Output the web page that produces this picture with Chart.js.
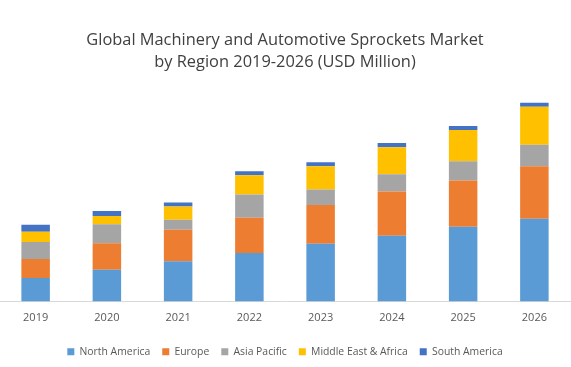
<!DOCTYPE html>
<html>
<head>
<meta charset="utf-8">
<script src="https://cdn.jsdelivr.net/npm/chart.js@4"></script>
<style>
  html, body { margin: 0; padding: 0; background: #fff; }
  #wrap { width: 571px; height: 367px; }
</style>
</head>
<body>
<div id="wrap"><canvas id="chart" width="571" height="367"></canvas></div>
<script>
const years = ['2019', '2020', '2021', '2022', '2023', '2024', '2025', '2026'];
const northAmerica = [23.3, 31.3, 39.7, 48, 57.3, 65, 74, 82];
const europe = [18.7, 26.3, 31.3, 35, 38.4, 44, 46, 52];
const asiaPacific = [17, 19, 10, 23, 15.3, 17, 19, 21.3];
const middleEastAfrica = [10, 8, 13, 19, 23, 27, 31, 37.7];
const southAmerica = [7, 5, 4, 4, 4, 4, 4, 4];
const titleLines = ['Global Machinery and Automotive Sprockets Market', 'by Region 2019-2026 (USD Million)'];

const textColor = '#595959';
const fontFamily = "'Open Sans', 'Liberation Sans', sans-serif";

function series(label, data, color) {
  return { label, data, backgroundColor: color, borderWidth: 0, barPercentage: 0.4, categoryPercentage: 1.0 };
}

const ctx = document.getElementById('chart').getContext('2d');
new Chart(ctx, {
  type: 'bar',
  data: {
    labels: years,
    datasets: [
      series('North America', northAmerica, '#5B9BD5'),
      series('Europe', europe, '#ED7D31'),
      series('Asia Pacific', asiaPacific, '#A5A5A5'),
      series('Middle East & Africa', middleEastAfrica, '#FFC000'),
      series('South America', southAmerica, '#4472C4')
    ]
  },
  options: {
    responsive: false,
    animation: false,
    layout: { padding: { top: 30, left: 0, right: 1, bottom: 0 } },
    plugins: {
      title: {
        display: true,
        text: titleLines,
        color: '#404040',
        font: { family: fontFamily, size: 16.4, weight: 'normal', lineHeight: 1.3 },
        padding: { top: 0, bottom: 14 }
      },
      legend: {
        position: 'bottom',
        labels: {
          color: textColor,
          font: { family: fontFamily, size: 10.4 },
          boxWidth: 7,
          boxHeight: 7,
          padding: 12
        }
      },
      tooltip: { enabled: false }
    },
    scales: {
      x: {
        stacked: true,
        grid: { display: false, drawTicks: false },
        border: { color: '#D9D9D9', width: 1 },
        ticks: { color: textColor, font: { family: fontFamily, size: 11 }, padding: 10 }
      },
      y: {
        stacked: true,
        display: false,
        min: 0,
        max: 213
      }
    }
  }
});
</script>
</body>
</html>
